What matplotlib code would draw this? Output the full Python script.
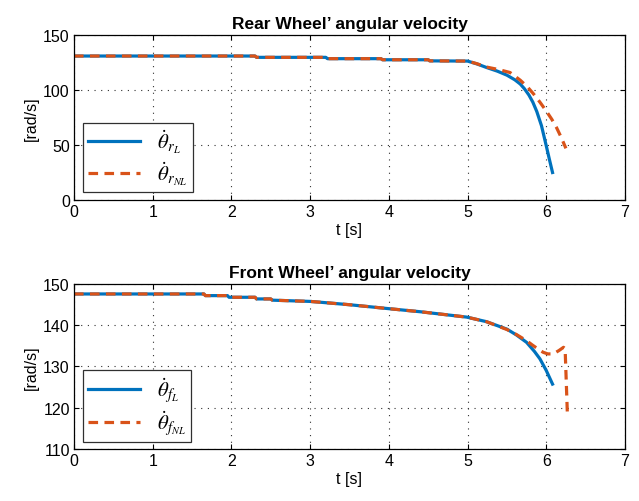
import matplotlib
matplotlib.use('Agg')
import matplotlib.pyplot as plt

plt.rcParams['font.family'] = ['Liberation Sans', 'DejaVu Sans']
plt.rcParams['mathtext.fontset'] = 'stix'

## rear wheel, linear model
t_rear_L = [0.0, 2.3, 2.32, 3.2, 3.22, 3.9, 3.92, 4.5, 4.52, 5.0, 5.12, 5.24, 5.38, 5.5, 5.6, 5.67, 5.72, 5.78, 5.83, 5.88, 5.94, 6.0, 6.04, 6.08]
w_rear_L = [131.0, 131.0, 129.8, 129.8, 128.6, 128.6, 127.6, 127.6, 126.6, 126.4, 123.8, 120.6, 117.2, 113.6, 109.4, 105.5, 101.5, 95.5, 89.0, 80.5, 67.5, 49.4, 37.0, 25.0]

## rear wheel, nonlinear model
t_rear_NL = [0.0, 2.3, 2.32, 3.2, 3.22, 3.9, 3.92, 4.5, 4.52, 5.0, 5.12, 5.24, 5.4, 5.54, 5.67, 5.76, 5.84, 5.92, 6.0, 6.07, 6.13, 6.19, 6.25]
w_rear_NL = [131.0, 131.0, 129.8, 129.8, 128.6, 128.6, 127.6, 127.6, 126.6, 126.4, 124.0, 121.0, 118.6, 116.0, 109.0, 103.0, 96.4, 89.0, 81.0, 73.5, 66.0, 57.0, 47.0]

## front wheel, linear model
t_front_L = [0.0, 1.65, 1.67, 1.95, 1.97, 2.3, 2.32, 2.5, 2.52, 3.0, 3.13, 3.5, 3.97, 4.4, 4.99, 5.24, 5.5, 5.62, 5.75, 5.85, 5.92, 6.0, 6.08]
w_front_L = [147.5, 147.5, 147.1, 147.1, 146.7, 146.7, 146.3, 146.3, 146.0, 145.7, 145.5, 144.9, 144.0, 143.2, 141.9, 140.8, 139.0, 137.6, 135.8, 133.6, 131.8, 129.0, 125.7]

## front wheel, nonlinear model
t_front_NL = [0.0, 1.65, 1.67, 1.95, 1.97, 2.3, 2.32, 2.5, 2.52, 3.0, 3.13, 3.5, 3.97, 4.4, 4.99, 5.24, 5.5, 5.62, 5.75, 5.82, 5.88, 5.96, 6.02, 6.09, 6.16, 6.22, 6.24, 6.27]
w_front_NL = [147.5, 147.5, 147.1, 147.1, 146.7, 146.7, 146.3, 146.3, 146.0, 145.7, 145.5, 144.9, 144.0, 143.2, 141.9, 140.8, 138.9, 137.7, 136.2, 135.2, 134.4, 133.4, 133.0, 133.0, 133.8, 134.6, 134.2, 117.7]

blue = '#0072BD'
orange = '#D95319'

fig = plt.figure(figsize=(6.39, 5.02), dpi=100)
ax1 = fig.add_axes([0.1158, 0.5996, 0.8622, 0.3284])
ax2 = fig.add_axes([0.1158, 0.1036, 0.8622, 0.3294])


def style_axis(ax, ylim, yticks, title, anchor):
    ax.set_xlim(0, 7)
    ax.set_ylim(*ylim)
    ax.set_xticks(range(0, 8))
    ax.set_yticks(yticks)
    ax.tick_params(direction='in', top=True, right=True, labelsize=11.5, length=3.5, width=0.8, pad=3)
    ax.grid(True, linestyle=(0, (1, 5)), color='#303030', linewidth=0.8)
    for s in ax.spines.values():
        s.set_linewidth(0.9)
    ax.set_xlabel('t [s]', fontsize=11.5, labelpad=2)
    ax.set_ylabel('[rad/s]', fontsize=11.5, labelpad=3)
    ax.set_title(title, fontsize=12.5, fontweight='bold', pad=5)
    leg = ax.legend(loc='lower left', bbox_to_anchor=anchor, fontsize=15,
                    fancybox=False, edgecolor='#303030', framealpha=1,
                    handlelength=2.5, borderpad=0.25, labelspacing=0.2,
                    borderaxespad=0)
    leg.get_frame().set_linewidth(0.9)


ax1.plot(t_rear_L, w_rear_L, color=blue, linewidth=2.3, label=r'$\dot{\theta}_{r_L}$')
ax1.plot(t_rear_NL, w_rear_NL, color=orange, linewidth=2.3, linestyle=(0, (3, 2)),
         label=r'$\dot{\theta}_{r_{NL}}$')
style_axis(ax1, (0, 150), [0, 50, 100, 150], 'Rear Wheel\u2019 angular velocity', (0.016, 0.048))

ax2.plot(t_front_L, w_front_L, color=blue, linewidth=2.3, label=r'$\dot{\theta}_{f_L}$')
ax2.plot(t_front_NL, w_front_NL, color=orange, linewidth=2.3, linestyle=(0, (3, 2)),
         label=r'$\dot{\theta}_{f_{NL}}$')
style_axis(ax2, (110, 150), [110, 120, 130, 140, 150], 'Front Wheel\u2019 angular velocity', (0.016, 0.044))

fig.savefig('out.png', dpi=100)
